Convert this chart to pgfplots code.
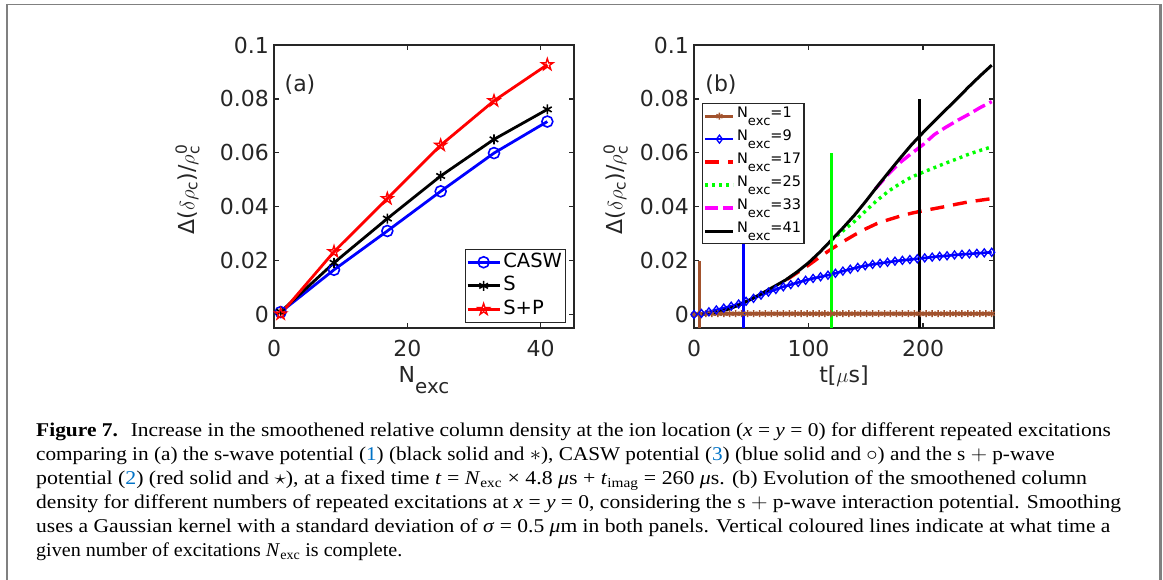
\documentclass[border=0pt]{standalone}
\usepackage{pgfplots}
\pgfplotsset{compat=1.18}
\usepackage{amsmath}
\usepackage{fontspec}
\setmainfont{Liberation Serif}
\newfontfamily\dv{DejaVu Sans}
\definecolor{frm}{RGB}{128,128,128}
\definecolor{ax}{RGB}{38,38,38}
\definecolor{brn}{RGB}{162,82,45}
\definecolor{refblue}{RGB}{0,114,198}
\definecolor{mag}{RGB}{255,0,255}
\definecolor{grn}{RGB}{0,255,0}
\newcommand{\sub}[1]{\raisebox{-0.53em}{\scalebox{0.9}{#1}}}
\newcommand{\tickfont}{\dv\fontsize{22}{24}\selectfont}
\pgfdeclareplotmark{pentagram}{%
  \pgfpathmoveto{\pgfpointpolar{90}{\pgfplotmarksize}}%
  \pgfpathlineto{\pgfpointpolar{126}{0.382\pgfplotmarksize}}%
  \pgfpathlineto{\pgfpointpolar{162}{\pgfplotmarksize}}%
  \pgfpathlineto{\pgfpointpolar{198}{0.382\pgfplotmarksize}}%
  \pgfpathlineto{\pgfpointpolar{234}{\pgfplotmarksize}}%
  \pgfpathlineto{\pgfpointpolar{270}{0.382\pgfplotmarksize}}%
  \pgfpathlineto{\pgfpointpolar{306}{\pgfplotmarksize}}%
  \pgfpathlineto{\pgfpointpolar{342}{0.382\pgfplotmarksize}}%
  \pgfpathlineto{\pgfpointpolar{18}{\pgfplotmarksize}}%
  \pgfpathlineto{\pgfpointpolar{54}{0.382\pgfplotmarksize}}%
  \pgfpathclose\pgfusepathqstroke}
\pgfplotsset{
  myaxis/.style={
    scale only axis, width=300pt, height=283pt,
    ymin=-0.005, ymax=0.1,
    ytick={0,0.02,0.04,0.06,0.08,0.1},
    yticklabels={0,0.02,0.04,0.06,0.08,0.1},
    tick align=inside, major tick length=5pt,
    axis line style={ax, line width=1.8pt},
    tick style={ax, line width=1.3pt},
    tick label style={font=\tickfont, text=ax},
    yticklabel style={anchor=east, inner sep=0pt, xshift=-5pt},
    xticklabel style={anchor=north, inner sep=0pt, yshift=-12pt},
    label style={font=\tickfont, text=ax},
    xlabel style={at={(axis description cs:0.5,0)}, anchor=north, inner sep=0pt, yshift=-38pt},
    legend cell align=left,
  }
}
\begin{document}
\begin{tikzpicture}
\path[use as bounding box] (0pt,0pt) rectangle (1163pt,-580pt);
% frame
\draw[frm, line width=1pt] (6pt,-4.5pt) -- (1160pt,-4.5pt);
\draw[frm, line width=2pt] (7pt,-4pt) -- (7pt,-580pt);
\draw[frm, line width=3pt] (1160.5pt,-4pt) -- (1160.5pt,-580pt);

% ---------------- panel (a)
\begin{axis}[myaxis,
  at={(274pt,-328pt)}, anchor=south west,
  xmin=0, xmax=45, xtick={0,20,40}, xticklabels={0,20,40},
  xlabel={N\sub{exc}},
  ylabel={{\dv Δ(}$\delta\rho_{\text{\dv c}}${\dv )/}$\rho_{\text{\dv c}}^{\text{\dv 0}}$},
  ylabel style={at={(axis description cs:-0.247,0.49)}, anchor=south, inner sep=0pt},
  legend image code/.code={\draw[mark repeat=2,mark phase=2,#1] plot coordinates {(0pt,0pt) (16pt,0pt) (32pt,0pt)};},
  legend style={at={(axis description cs:0.973,0.018)}, anchor=south east, draw=ax, line width=1.3pt, fill=white, inner sep=1pt,
    font=\dv\fontsize{19.5}{21}\selectfont, row sep=0pt,
    nodes={inner sep=2.3pt, text height=14.5pt, text depth=4.5pt},
    /tikz/every even column/.append style={column sep=2pt}},
]
\addplot[blue, line width=2.8pt, mark=o, mark size=5.5pt, mark options={line width=1.6pt}] coordinates {
(1,0.0009) (9,0.0166) (17,0.0310) (25,0.0457) (33,0.0599) (41,0.0716)};
\addlegendentry{CASW}
\addplot[black, line width=2.8pt, mark=asterisk, mark size=5pt, mark options={line width=1.6pt}] coordinates {
(1,0.0010) (9,0.0192) (17,0.0356) (25,0.0514) (33,0.0650) (41,0.0761)};
\addlegendentry{S}
\addplot[red, line width=2.8pt, mark=pentagram, mark size=6pt, mark options={line width=1.4pt}] coordinates {
(1,0.0002) (9,0.0233) (17,0.0430) (25,0.0628) (33,0.0793) (41,0.0927)};
\addlegendentry{S+P}
\end{axis}

% ---------------- panel (b)
\begin{axis}[myaxis,
  at={(694pt,-328pt)}, anchor=south west,
  xmin=0, xmax=262, xtick={0,100,200}, xticklabels={0,100,200},
  xlabel={t[$\mu$s]},
  ylabel={{\dv Δ(}$\delta\rho_{\text{\dv c}}${\dv )/}$\rho_{\text{\dv c}}^{\text{\dv 0}}$},
  ylabel style={at={(axis description cs:-0.22,0.49)}, anchor=south, inner sep=0pt},
  legend image code/.code={\draw[mark repeat=2,mark phase=2,#1] plot coordinates {(0pt,0pt) (14pt,0pt) (28pt,0pt)};},
  legend style={at={(axis description cs:0.027,0.795)}, anchor=north west, draw=ax, line width=1.3pt, fill=white, inner sep=1pt,
    font=\dv\fontsize{14.5}{16}\selectfont, row sep=0pt,
    nodes={inner sep=2pt, text height=11pt, text depth=8pt},
    /tikz/every even column/.append style={column sep=1pt}},
]
\addplot[brn, line width=3pt, mark=asterisk, mark size=3.5pt, mark options={line width=1.5pt}] coordinates {
(0,0) (5.2,0.0002) (10.4,0.0003) (15.6,0.0003) (20.8,0.0003) (26,0.0003) (31.2,0.0003) (36.4,0.0003) (41.6,0.0003) (46.8,0.0003)
(52,0.0003) (57.2,0.0003) (62.4,0.0003) (67.6,0.0003) (72.8,0.0003) (78,0.0003) (83.2,0.0003) (88.4,0.0003) (93.6,0.0003) (98.8,0.0003)
(104,0.0003) (109.2,0.0003) (114.4,0.0003) (119.6,0.0003) (124.8,0.0003) (130,0.0003) (135.2,0.0003) (140.4,0.0003) (145.6,0.0003) (150.8,0.0003)
(156,0.0003) (161.2,0.0003) (166.4,0.0003) (171.6,0.0003) (176.8,0.0003) (182,0.0003) (187.2,0.0003) (192.4,0.0003) (197.6,0.0003) (202.8,0.0003)
(208,0.0003) (213.2,0.0003) (218.4,0.0003) (223.6,0.0003) (228.8,0.0003) (234,0.0003) (239.2,0.0003) (244.4,0.0003) (249.6,0.0003) (254.8,0.0003) (260,0.0003)};
\addlegendentry{N\sub{exc}=1}
\addplot[blue, line width=2.6pt, mark=diamond, mark size=4pt, mark options={solid, line width=1.3pt}] coordinates {
(0,0) (6.5,0.0004) (13,0.0010) (19.5,0.0017) (26,0.0024) (32.5,0.0031) (39,0.0039) (45.5,0.0049) (52,0.0060) (58.5,0.0072)
(65,0.0083) (71.5,0.0093) (78,0.0103) (84.5,0.0111) (91,0.0119) (97.5,0.0127) (104,0.0134) (110.5,0.0140) (117,0.0146) (123.5,0.0153)
(130,0.0161) (136.5,0.0168) (143,0.0175) (149.5,0.0181) (156,0.0186) (162.5,0.0190) (169,0.0194) (175.5,0.0198) (182,0.0201) (188.5,0.0204)
(195,0.0207) (201.5,0.0210) (208,0.0213) (214.5,0.0216) (221,0.0218) (227.5,0.0221) (234,0.0223) (240.5,0.0225) (247,0.0227) (253.5,0.0229) (260,0.0231)};
\addlegendentry{N\sub{exc}=9}
\addplot[red, line width=3.4pt, dash pattern=on 14pt off 9pt] coordinates {
(81.6,0.0131) (90,0.0155) (100,0.0183) (110,0.0214) (120,0.0243) (130,0.0270) (140,0.0295) (150,0.0318) (160,0.0338)
(170,0.0352) (180,0.0365) (190,0.0376) (200,0.0385) (210,0.0393) (220,0.0401) (230,0.0410) (240,0.0418) (250,0.0424) (260,0.0430)};
\addlegendentry{N\sub{exc}=17}
\addplot[grn, line width=3.4pt, dash pattern=on 3pt off 4pt] coordinates {
(120,0.0276) (130,0.0310) (140,0.0345) (150,0.0385) (160,0.0424) (170,0.0458) (180,0.0486) (190,0.0510) (200,0.0528)
(210,0.0545) (220,0.0562) (230,0.0578) (240,0.0595) (250,0.0609) (260,0.0622)};
\addlegendentry{N\sub{exc}=25}
\addplot[mag, line width=3.4pt, dash pattern=on 13pt off 5pt] coordinates {
(158.4,0.0466) (170,0.0522) (180,0.0564) (190,0.0598) (200,0.0630) (210,0.0668) (220,0.0695) (230,0.0720) (240,0.0743) (250,0.0768) (260,0.0790)};
\addlegendentry{N\sub{exc}=33}
\addplot[black, line width=3pt] coordinates {
(0,0) (10,0.0002) (20,0.0009) (30,0.0020) (40,0.0036) (50,0.0057) (60,0.0080) (70,0.0104) (80,0.0128) (90,0.0158)
(100,0.0192) (110,0.0232) (120,0.0276) (130,0.0321) (140,0.0368) (150,0.0420) (160,0.0475) (170,0.0528) (180,0.0580)
(190,0.0630) (200,0.0675) (210,0.0718) (220,0.0760) (230,0.0802) (240,0.0845) (250,0.0886) (260,0.0925)};
\addlegendentry{N\sub{exc}=41}
% vertical lines: end of excitations
\addplot[brn, line width=2.4pt, forget plot] coordinates {(4.8,-0.005) (4.8,0.02)};
\addplot[blue, line width=2.4pt, forget plot] coordinates {(43.2,-0.005) (43.2,0.04)};
\addplot[grn, line width=2.4pt, forget plot] coordinates {(120,-0.005) (120,0.06)};
\addplot[black, line width=2.4pt, forget plot] coordinates {(196.8,-0.005) (196.8,0.08)};
\end{axis}

\node[font=\tickfont, text=ax] at (300pt,-85pt) {(a)};
\node[font=\tickfont, text=ax] at (721pt,-85pt) {(b)};

% caption
\begin{scope}[every node/.style={anchor=base west, inner sep=0pt, font=\fontsize{19.5}{24}\selectfont}]
\node at (36pt,-436pt) {\scalebox{1.099}[1]{\textbf{Figure 7.}\hspace{0.6em}Increase in the smoothened relative column density at the ion location (\textit{x} = \textit{y} = 0) for different repeated excitations}};
\node at (36pt,-460pt) {\scalebox{1.088}[1]{comparing in (a) the s-wave potential ({\color{refblue}1}) (black solid and $\ast$), CASW potential ({\color{refblue}3}) (blue solid and $\circ$) and the s $+$ p-wave}};
\node at (36pt,-484pt) {\scalebox{1.12}[1]{potential ({\color{refblue}2}) (red solid and $\star$), at a fixed time \textit{t} = \textit{N}\textsubscript{exc} × 4.8 \textit{μ}s + \textit{t}\textsubscript{imag} = 260 \textit{μ}s. (b) Evolution of the smoothened column}};
\node at (36pt,-508pt) {\scalebox{1.103}[1]{density for different numbers of repeated excitations at \textit{x} = \textit{y} = 0, considering the s $+$ p-wave interaction potential. Smoothing}};
\node at (36pt,-532pt) {\scalebox{1.105}[1]{uses a Gaussian kernel with a standard deviation of \textit{σ} = 0.5 \textit{μ}m in both panels. Vertical coloured lines indicate at what time a}};
\node at (36pt,-556pt) {\scalebox{1.03}[1]{given number of excitations \textit{N}\textsubscript{exc} is complete.}};
\end{scope}
\end{tikzpicture}
\end{document}
